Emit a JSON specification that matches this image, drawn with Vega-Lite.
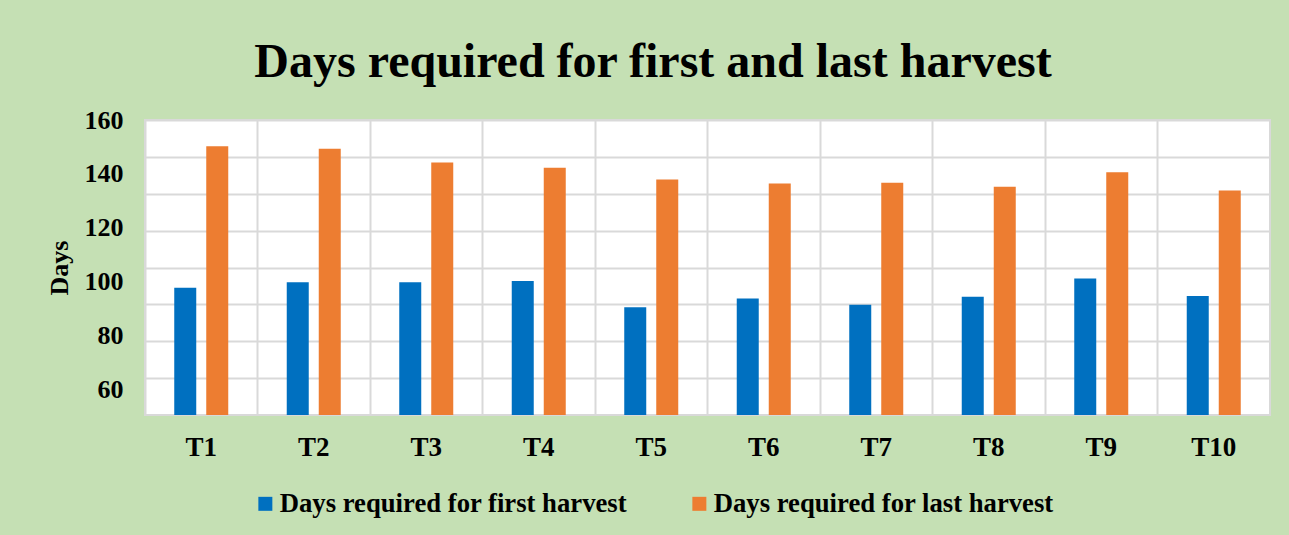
{
  "$schema": "https://vega.github.io/schema/vega-lite/v6.json",
  "width": 1125,
  "height": 295,
  "autosize": {"type": "none"},
  "padding": {"left": 145, "top": 120, "right": 19, "bottom": 120},
  "background": "#C5E0B4",
  "config": {
    "view": {"fill": "white", "stroke": "#D9D9D9", "strokeWidth": 2},
    "font": "Liberation Serif"
  },
  "title": {
    "text": "Days required for first and last harvest",
    "font": "Liberation Serif",
    "fontSize": 48,
    "fontWeight": "bold",
    "color": "black",
    "anchor": "middle",
    "frame": "bounds",
    "offset": 20,
    "dx": -5
  },
  "data": {
    "values": [
      {"T": "T1", "series": "Days required for first harvest", "days": 97.7},
      {"T": "T1", "series": "Days required for last harvest", "days": 150.3},
      {"T": "T2", "series": "Days required for first harvest", "days": 99.8},
      {"T": "T2", "series": "Days required for last harvest", "days": 149.3},
      {"T": "T3", "series": "Days required for first harvest", "days": 99.8},
      {"T": "T3", "series": "Days required for last harvest", "days": 144.2},
      {"T": "T4", "series": "Days required for first harvest", "days": 100.2},
      {"T": "T4", "series": "Days required for last harvest", "days": 142.3},
      {"T": "T5", "series": "Days required for first harvest", "days": 90.5},
      {"T": "T5", "series": "Days required for last harvest", "days": 137.9},
      {"T": "T6", "series": "Days required for first harvest", "days": 93.7},
      {"T": "T6", "series": "Days required for last harvest", "days": 136.4},
      {"T": "T7", "series": "Days required for first harvest", "days": 91.4},
      {"T": "T7", "series": "Days required for last harvest", "days": 136.7},
      {"T": "T8", "series": "Days required for first harvest", "days": 94.4},
      {"T": "T8", "series": "Days required for last harvest", "days": 135.2},
      {"T": "T9", "series": "Days required for first harvest", "days": 101.2},
      {"T": "T9", "series": "Days required for last harvest", "days": 140.6},
      {"T": "T10", "series": "Days required for first harvest", "days": 94.7},
      {"T": "T10", "series": "Days required for last harvest", "days": 133.8}
    ]
  },
  "encoding": {
    "x": {
      "field": "T",
      "type": "nominal",
      "sort": null,
      "scale": {"paddingInner": 0, "paddingOuter": 0},
      "axis": {
        "title": null,
        "labelAngle": 0,
        "labelFont": "Liberation Serif",
        "labelFontSize": 27,
        "labelFontWeight": "bold",
        "labelColor": "black",
        "labelPadding": 19,
        "ticks": false,
        "domain": false,
        "grid": true,
        "bandPosition": 0,
        "gridColor": "#D9D9D9",
        "gridWidth": 2
      }
    },
    "xOffset": {
      "field": "series",
      "type": "nominal",
      "scale": {"paddingInner": 0.3125, "paddingOuter": 0.914}
    },
    "color": {
      "field": "series",
      "type": "nominal",
      "scale": {
        "domain": ["Days required for first harvest", "Days required for last harvest"],
        "range": ["#0070C0", "#ED7D31"]
      },
      "legend": {
        "title": null,
        "orient": "none",
        "legendX": 107,
        "legendY": 370,
        "direction": "horizontal",
        "symbolType": "square",
        "symbolSize": 196,
        "symbolStrokeWidth": 0,
        "labelFont": "Liberation Serif",
        "labelFontSize": 26.7,
        "labelFontWeight": "bold",
        "labelColor": "black",
        "labelLimit": 600,
        "labelOffset": 1,
        "columnPadding": 58
      }
    }
  },
  "layer": [
    {
      "mark": {"type": "bar", "clip": true},
      "encoding": {
        "y": {
          "field": "days",
          "type": "quantitative",
          "scale": {"domain": [50.5, 160], "nice": false, "zero": false},
          "axis": {
            "orient": "left",
            "title": null,
            "labels": false,
            "ticks": false,
            "domain": false,
            "grid": true,
            "gridColor": "#D9D9D9",
            "gridWidth": 2,
            "values": [64.1875, 77.875, 91.5625, 105.25, 118.9375, 132.625, 146.3125, 160]
          }
        }
      }
    },
    {
      "mark": {"type": "bar", "opacity": 0, "clip": true},
      "encoding": {
        "y": {
          "field": "days",
          "type": "quantitative",
          "scale": {"domain": [50.5, 160], "nice": false, "zero": false},
          "axis": {
            "orient": "left",
            "title": "Days",
            "titleFont": "Liberation Serif",
            "titleFontSize": 26,
            "titleFontWeight": "bold",
            "titleColor": "black",
            "titlePadding": 12,
            "labelFont": "Liberation Serif",
            "labelFontSize": 26,
            "labelFontWeight": "bold",
            "labelColor": "black",
            "labelPadding": 22,
            "ticks": false,
            "domain": false,
            "grid": false,
            "values": [60, 80, 100, 120, 140, 160]
          }
        }
      }
    }
  ],
  "resolve": {"axis": {"y": "independent"}}
}
